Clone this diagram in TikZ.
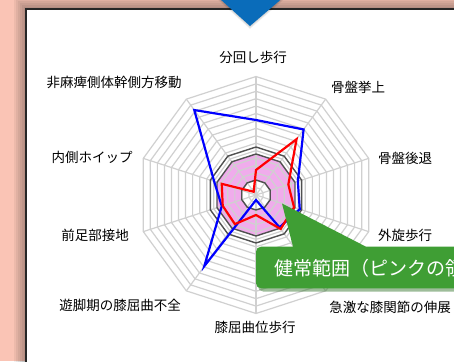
\documentclass[tikz,border=0pt]{standalone}
\usepackage{fontspec}
\newfontfamily\jpfont{Noto Sans CJK JP}
\definecolor{bgsalmon}{RGB}{250,196,181}
\definecolor{gridgray}{RGB}{208,208,208}
\definecolor{ringdark}{RGB}{80,80,80}
\definecolor{normpink}{RGB}{240,172,236}
\definecolor{pointblue}{RGB}{10,108,186}
\definecolor{notegreen}{RGB}{63,158,52}
\definecolor{notedark}{RGB}{40,110,32}
\newcommand\decagon[1]{(90:#1) \foreach \k in {1,...,9} {-- (90-36*\k:#1)} -- cycle}
\begin{document}
\begin{tikzpicture}[x=1pt, y=1pt,
    axislabel/.style={font=\jpfont\fontsize{13.5}{16}\selectfont, inner sep=0pt},
    gridline/.style={gridgray, line width=1.2pt},
    normring/.style={ringdark, line width=1.4pt},
    series/.style={line width=2.2pt, line join=miter}]
    \useasboundingbox (0,0) rectangle (454,361);
    \clip (0,0) rectangle (454,361);
    \fill[bgsalmon] (0,0) rectangle (454,361);
    \foreach \d in {2,4,...,12} {\fill[black, opacity=0.05] (26-\d,-20)
      rectangle (480,352+\d);}
    \fill[white, draw=black!85, line width=1.5pt] (26,-10) rectangle (480,352);
    \foreach \d in {1,2,3} {\fill[black, opacity=0.06] (216.7-\d,365) --
      (285+\d,365) -- (250,335-\d) -- cycle;}
    \fill[pointblue] (216.7,365) -- (285,365) -- (250,335) -- cycle;

    \begin{scope}[shift={(256,166)}]
      \fill[normpink, even odd rule] \decagon{41} \decagon{15};
      \foreach \i in {1,...,16} {\draw[gridline] \decagon{\i*7.406};}
      \foreach \k in {0,...,9} {\draw[gridline] (0,0) -- (90-36*\k:118.5);}
      \draw[normring] \decagon{48}; \draw[normring] \decagon{41};
      \draw[normring] \decagon{15};
      \draw[series, blue] (90:75) -- (54:81) -- (18:44) -- (-18:46) --
      (-54:40) -- (-90:5) -- (-126:88) -- (-162:36) -- (162:44) --
      (126:105) -- cycle;
      \draw[series, red] (90:25) -- (54:69) -- (18:34) -- (-18:40) --
      (-54:42) -- (-90:20) -- (-126:36) -- (-162:35) -- (162:36) --
      (126:4) -- cycle;
    \end{scope}

    \begin{scope}[every node/.style={axislabel}]
      \node (circum) at (253,304) {分回し歩行}; \node (hike) at (358,274)
      {骨盤挙上}; \node (retract) at (405,203) {骨盤後退}; \node (extrot)
      at (405,126) {外旋歩行}; \node (kneeext) at (390,54)
      {急激な膝関節の伸展}; \node (kneeflex) at (255,34) {膝屈曲位歩行};
      \node (swing) at (120,56) {遊脚期の膝屈曲不全}; \node (forefoot) at
      (95,126) {前足部接地}; \node (whip) at (92,204) {内側ホイップ};
      \node (trunk) at (114,279) {非麻痺側体幹側方移動};
    \end{scope}

    \fill[notedark, opacity=0.45, rounded corners=5pt] (258,69.5) rectangle
    (520,112);
    \fill[notegreen] (256,114.3) [rounded corners=5pt] -- (256,72.7) --
    (520,72.7) -- (520,114.3) [sharp corners] -- (366,114.3) -- (282,157.5)
    -- (293,114.3) [rounded corners=5pt] -- cycle;
    \node[anchor=west, inner sep=0pt, white,
      font=\jpfont\fontsize{19}{22}\selectfont] (note) at (274,93)
    {健常範囲（ピンクの領域）};
  \end{tikzpicture}
\end{document}
